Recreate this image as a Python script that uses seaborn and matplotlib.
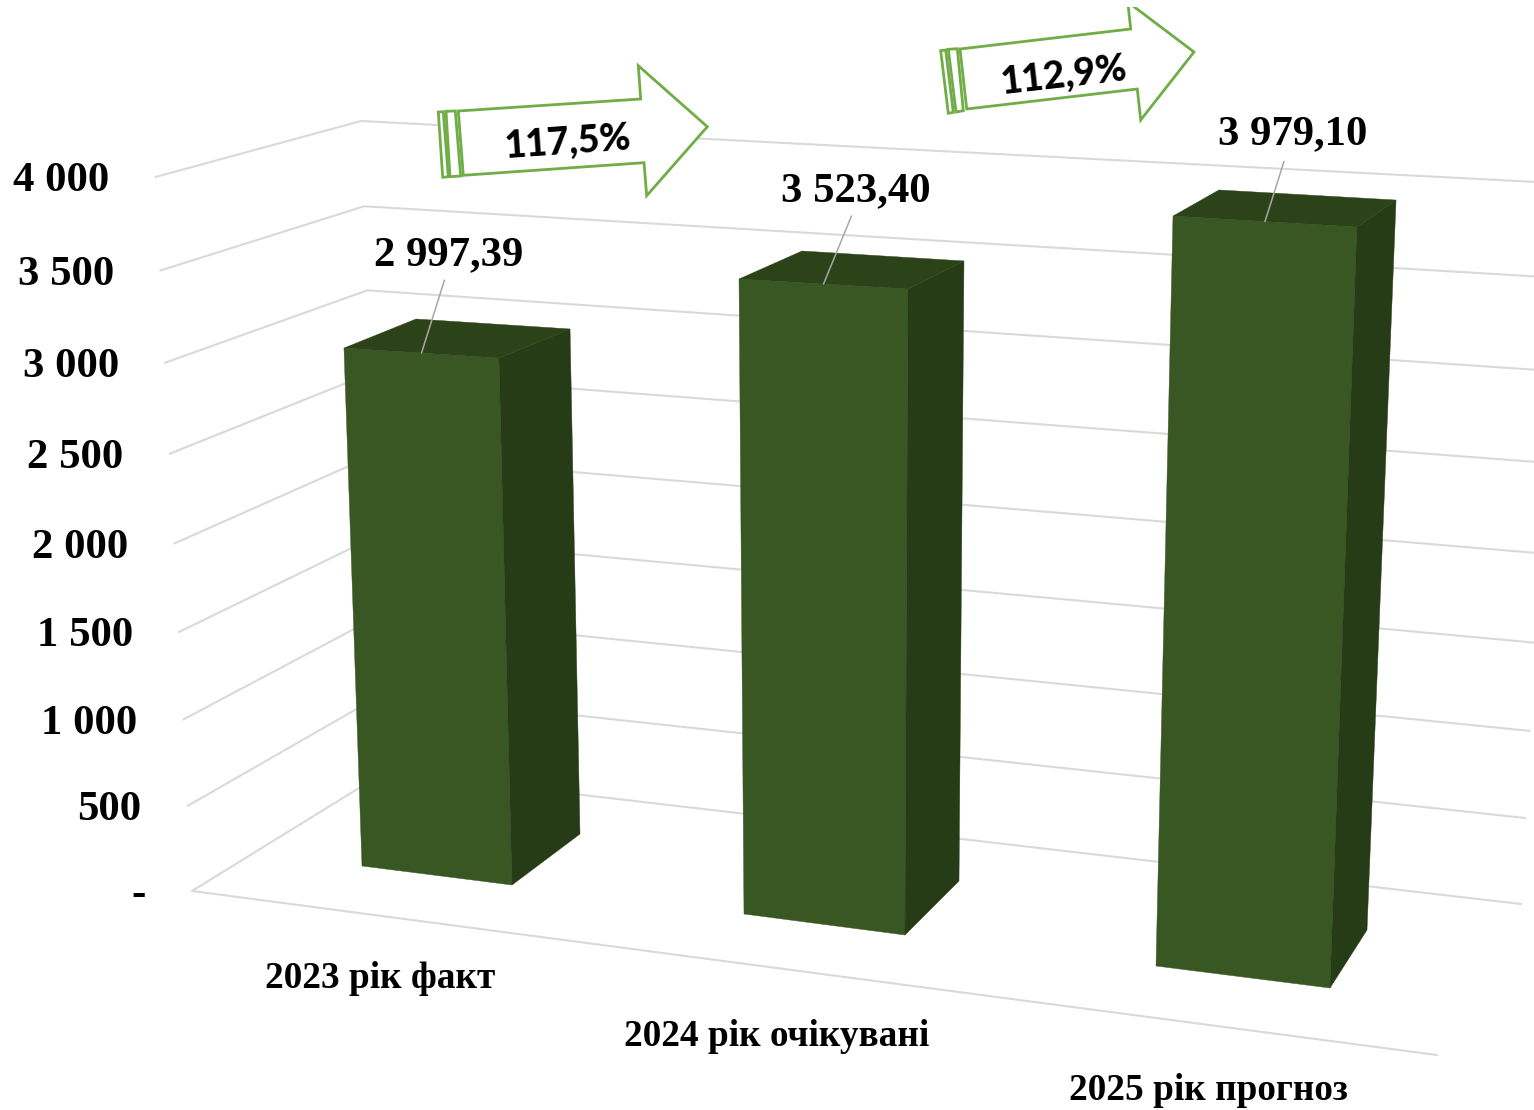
import matplotlib
matplotlib.use('Agg')
import matplotlib.pyplot as plt
import numpy as np
import pandas as pd
import seaborn as sns
from matplotlib.patches import Polygon, Rectangle

# chart data
categories = ['2023 рік факт', '2024 рік очікувані', '2025 рік прогноз']
values = [2997.39, 3523.40, 3979.10]
value_labels = ['2 997,39', '3 523,40', '3 979,10']
ticks = [0, 500, 1000, 1500, 2000, 2500, 3000, 3500, 4000]
tick_labels = ['-', '500', '1 000', '1 500', '2 000', '2 500', '3 000', '3 500', '4 000']
growth_labels = ['117,5%', '112,9%']

# colours
GRID = '#d9d9d9'
FRONT = '#385723'
SIDE = '#263c16'
TOP = '#2c431a'
ARROW = '#70ad47'
SERIF = 'Liberation Serif'

# the picture is a 3D chart, so every vertical edge is kept as
# (pixel at value 0, pixel at value 4000) and values are moved along it
WALL_FRONT = ((192, 891), (155.5, 177))
WALL_BACK = ((385, 772), (361, 121))
WALL_RIGHT = ((1521, 904), (1556, 183))
FLOOR_END = (1437, 1055)
BAR_EDGES = [
    {'fl': ((362, 866), (337.6, 165.3)), 'fr': ((512, 885), (494.4, 172.1)),
     'br': ((580, 834), (566.5, 150.8)), 'bl': ((430, 815), (411.1, 144))},
    {'fl': ((744, 914), (738.3, 188.4)), 'fr': ((905, 935), (908.4, 196.8)),
     'br': ((959, 881), (964.7, 172.5)), 'bl': ((798, 860), (802.6, 164.1))},
    {'fl': ((1156, 966), (1173.1, 211.9)), 'fr': ((1330, 988), (1357.1, 222.8)),
     'br': ((1367, 930), (1396.2, 196)), 'bl': ((1193, 908), (1219.1, 186))},
]
LABEL_OFFSET = [(27.5, -98), (32, -93), (28, -87)]
LEADER_OFFSET = [(23, -73), (28, -68), (19, -60)]
CATEGORY_POS = [(380, 979), (777, 1036), (1208, 1091)]
TICK_GAP = 46
PERSPECTIVE = 0.013


def scale(value):
    # share of the way up an edge, values spread out a bit towards the top
    f = lambda v: v / 1000 / (1 - PERSPECTIVE * v / 1000)
    return f(value) / f(4000)


def along(edge, value):
    base, top = np.array(edge[0], float), np.array(edge[1], float)
    return base + (top - base) * scale(value)


sns.set_theme(style='white')
plt.rcParams['font.family'] = [SERIF, 'DejaVu Sans']

fig = plt.figure(figsize=(15.34, 11.10), dpi=100)
ax = fig.add_axes([0, 0, 1, 1])
ax.set_xlim(0, 1534)
ax.set_ylim(1110, 0)
ax.axis('off')

# seaborn works out the bars, they are then redrawn as boxes
df = pd.DataFrame({'category': categories, 'value': values})
helper = fig.add_axes([0, 0, 1, 1], visible=False)
sns.barplot(data=df, x='category', y='value', ax=helper)
heights = [p.get_height() for p in helper.patches]

# grid on the two walls
for t, lab in zip(ticks, tick_labels):
    a = along(WALL_FRONT, t)
    b = along(WALL_BACK, t)
    c = along(WALL_RIGHT, t)
    ax.plot([a[0], b[0], c[0]], [a[1], b[1], c[1]], color=GRID, lw=1.5, zorder=1,
            solid_joinstyle='miter')
    ax.text(a[0] - TICK_GAP, a[1] + 4, lab, ha='right', va='center', fontsize=30.8,
            fontweight='bold', color='black')
start = along(WALL_FRONT, 0)
ax.plot([start[0], FLOOR_END[0]], [start[1], FLOOR_END[1]], color=GRID, lw=1.5, zorder=1)

# bars
for i, h in enumerate(heights):
    e = BAR_EDGES[i]
    fl0, fr0, br0 = [np.array(e[k][0], float) for k in ('fl', 'fr', 'br')]
    fl, fr, br, bl = [along(e[k], h) for k in ('fl', 'fr', 'br', 'bl')]
    ax.add_patch(Polygon([fl, fr, fr0, fl0], closed=True, fc=FRONT, ec=FRONT, lw=0.3, zorder=3))
    ax.add_patch(Polygon([fr, br, br0, fr0], closed=True, fc=SIDE, ec=SIDE, lw=0.3, zorder=3))
    ax.add_patch(Polygon([fl, bl, br, fr], closed=True, fc=TOP, ec=TOP, lw=0.3, zorder=3))

    mid = (fl + fr) / 2
    ax.plot([mid[0], mid[0] + LEADER_OFFSET[i][0]], [mid[1], mid[1] + LEADER_OFFSET[i][1]],
            color='#a6a6a6', lw=1.1, zorder=4)
    ax.text(mid[0] + LABEL_OFFSET[i][0], mid[1] + LABEL_OFFSET[i][1], value_labels[i],
            ha='center', va='center', fontsize=30.8, fontweight='bold', color='black', zorder=5)
    ax.text(CATEGORY_POS[i][0], CATEGORY_POS[i][1], categories[i], ha='center', va='center',
            fontsize=26.8, fontweight='bold', color='black', zorder=5)

# growth arrows
arrow_shapes = [
    {'body': [(458.3, 111), (640.7, 99), (638.3, 65.7), (707.3, 126.7),
              (646.7, 195.7), (644, 162.7), (463.3, 175.3)],
     'stripes': [[(438.3, 112), (443.3, 111.7), (448.3, 176.7), (442.7, 177.3)],
                 [(446, 111.3), (455.3, 111), (460.7, 176), (450, 176.7)]],
     'text': (568, 142), 'angle': 4.0},
    {'body': [(960, 49), (1130.7, 29), (1127.8, 2), (1194, 52),
              (1140.7, 120), (1137.3, 89), (966.7, 109)],
     'stripes': [[(940.7, 50.7), (945.7, 50), (953.3, 112.3), (948.3, 113.3)],
                 [(948.3, 49.3), (957.3, 48.7), (963.3, 110.7), (956, 112)]],
     'text': (1064, 75), 'angle': 6.5},
]
clip = Rectangle((0, 7), 1534, 1103, transform=ax.transData)
for shape, lab in zip(arrow_shapes, growth_labels):
    for pts in [shape['body']] + shape['stripes']:
        p = Polygon(pts, closed=True, fc='white', ec=ARROW, lw=2.0, zorder=6, joinstyle='miter')
        ax.add_patch(p)
        p.set_clip_path(clip)
    ax.text(shape['text'][0], shape['text'][1], lab, rotation=shape['angle'],
            rotation_mode='anchor', ha='center', va='center', fontsize=27,
            fontweight='black', family=['Lato', 'DejaVu Sans'], color='black', zorder=7)

fig.savefig('out.png', dpi=100, facecolor='white')
